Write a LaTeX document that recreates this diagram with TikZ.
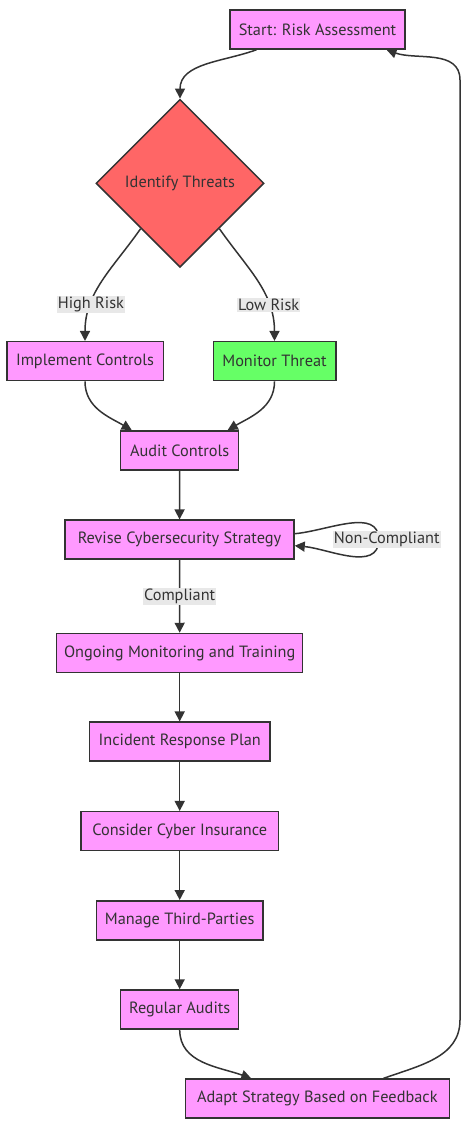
\documentclass[tikz,border=0pt]{standalone}
\usepackage{fontspec}
\setmainfont{PT Sans}
\usetikzlibrary{arrows.meta,shapes.geometric}
\definecolor{boxpink}{HTML}{FF99FF}
\definecolor{threatred}{HTML}{FF6666}
\definecolor{okgreen}{HTML}{66FF66}
\definecolor{ink}{HTML}{333333}
\definecolor{lblgray}{HTML}{E8E8E8}
\tikzset{
  stepbox/.style={draw=ink, line width=1.5pt, fill=boxpink, text=ink,
    minimum height=39pt, inner xsep=3pt, font=\fontsize{16.3}{18}\selectfont},
  decision/.style={diamond, draw=ink, line width=1.5pt, fill=threatred, text=ink,
    minimum width=168pt, minimum height=168pt, inner sep=0pt, font=\fontsize{16.3}{18}\selectfont},
  arr/.style={draw=ink, line width=1.5pt, -{Triangle[length=10pt,width=10pt]}},
  lbl/.style={fill=lblgray, text=ink, inner sep=1pt, font=\fontsize{16.3}{18}\selectfont}
}
\begin{document}
\begin{tikzpicture}[x=1pt,y=1pt]
  \useasboundingbox (0,0) rectangle (465,-1123);
  % Knoten
  \node[stepbox, minimum width=175pt] (start) at (317.5,-29.5) {Start: Risk Assessment};
  \node[decision] (threats) at (180,-183.3) {Identify Threats};
  \node[stepbox, minimum width=156.5pt] (impl) at (85,-361.2) {Implement Controls};
  \node[stepbox, minimum width=122.5pt, fill=okgreen] (monitor) at (274.5,-361.2) {Monitor Threat};
  \node[stepbox, minimum width=118pt] (audit) at (179.7,-450.3) {Audit Controls};
  \node[stepbox, minimum width=229pt] (revise) at (179.5,-539.7) {Revise Cybersecurity Strategy};
  \node[stepbox, minimum width=246pt] (ongoing) at (179.7,-653) {Ongoing Monitoring and Training};
  \node[stepbox, minimum width=180.7pt] (incident) at (179.7,-741.7) {Incident Response Plan};
  \node[stepbox, minimum width=197.3pt] (insure) at (179.7,-831.2) {Consider Cyber Insurance};
  \node[stepbox, minimum width=166.7pt] (third) at (179.7,-920.3) {Manage Third-Parties};
  \node[stepbox, minimum width=118pt] (regular) at (179.7,-1009.5) {Regular Audits};
  \node[stepbox, minimum width=264pt] (adapt) at (317.3,-1098.7) {Adapt Strategy Based on Feedback};
  % Hilfspunkte
  \coordinate (loopr) at (460,-540);
  % Verbindungen
  \draw[arr] ([xshift=-61pt]start.south) to[out=200,in=90] (threats.north);
  \draw[arr] ([shift={(3pt,-3pt)}]threats.south west) to[out=-125,in=90]
    node[lbl, pos=0.72] {High Risk} (impl.north);
  \draw[arr] ([shift={(-3pt,-3pt)}]threats.south east) to[out=-55,in=90]
    node[lbl, pos=0.72] {Low Risk} (monitor.north);
  \draw[arr] (impl.south) to[out=-90,in=150] ([xshift=-48pt]audit.north);
  \draw[arr] (monitor.south) to[out=-90,in=30] ([xshift=48pt]audit.north);
  \draw[arr] (audit) -- (revise);
  \draw[arr] ([yshift=6pt]revise.east) to[out=5,in=90] ([xshift=84pt]revise.east)
    node[lbl, xshift=8pt] {Non-Compliant}
    to[out=-90,in=-5] ([yshift=-6pt]revise.east);
  \draw[arr] (revise) -- node[lbl] {Compliant} (ongoing);
  \draw[arr] (ongoing) -- (incident);
  \draw[arr] (incident) -- (insure);
  \draw[arr] (insure) -- (third);
  \draw[arr] (third) -- (regular);
  \draw[arr] (regular.south) to[out=-90,in=160] ([xshift=-66pt]adapt.north);
  \draw[arr] ([xshift=66pt]adapt.north) to[out=20,in=-90] ([yshift=-480pt]loopr)
    -- ([yshift=460pt]loopr) to[out=90,in=-20] ([xshift=69pt]start.south);
\end{tikzpicture}
\end{document}
